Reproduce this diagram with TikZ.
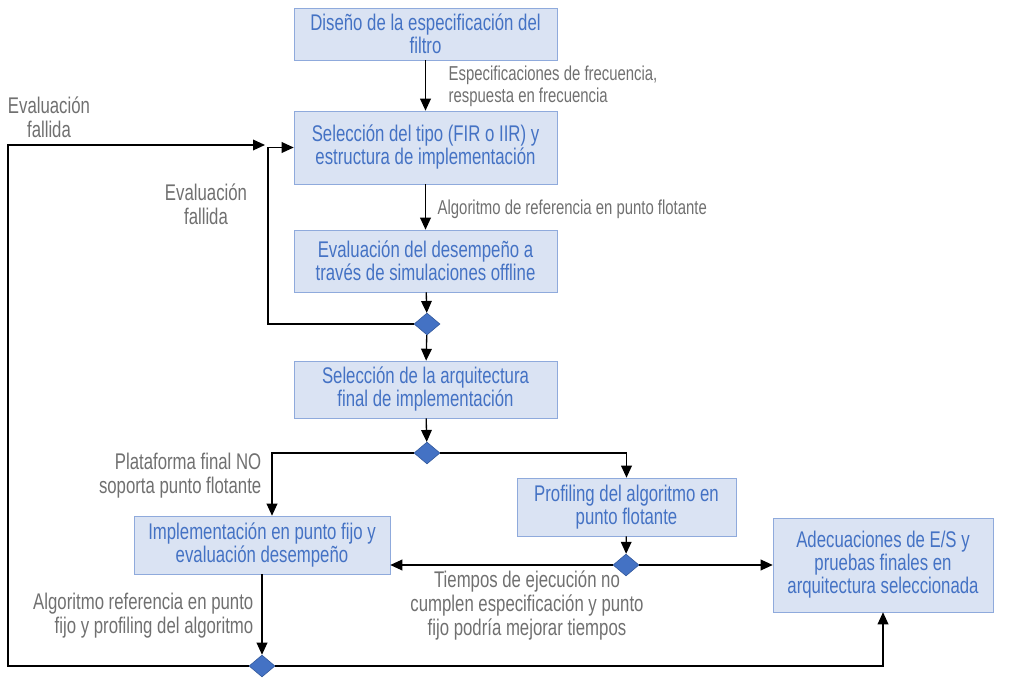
\documentclass[tikz,border=0pt]{standalone}
\usepackage{fontspec}
\setmainfont[FakeStretch=0.74]{Liberation Sans}
\usetikzlibrary{arrows.meta,shapes.geometric}
\definecolor{boxfill}{HTML}{DAE3F3}
\definecolor{boxline}{HTML}{8FAADC}
\definecolor{boxtext}{HTML}{4472C4}
\definecolor{labeltext}{HTML}{707070}
\definecolor{decline}{HTML}{2F5597}
\tikzset{
    stage/.style={draw=boxline,fill=boxfill,text=boxtext,align=center,inner sep=0pt,
        minimum width=197.25pt,font=\fontsize{17pt}{17.25pt}\selectfont},
    decision/.style={diamond,draw=decline,fill=boxtext,inner sep=0pt,
        minimum width=19.5pt,minimum height=16.5pt},
    note/.style={text=labeltext,font=\fontsize{17pt}{18pt}\selectfont},
    smallnote/.style={text=labeltext,align=left,font=\fontsize{15.1pt}{16.5pt}\selectfont},
    arr/.style={line width=1pt,-{Triangle[width=8pt,length=9pt]}}
}
\begin{document}
\begin{tikzpicture}[x=0.75pt,y=-0.75pt]
                \useasboundingbox (0,0) rectangle (1013,680);
                \node[stage,minimum height=39pt] (spec) at (425.5,34) {Diseño de la especificación del\\filtro};
                \node[stage,minimum height=54.75pt] (tipo) at (425.5,147.5) {Selección del tipo (FIR o IIR) y\\estructura de implementación};
                \node[stage,minimum height=46.5pt] (sim) at (425.5,261) {Evaluación del desempeño a\\través de simulaciones offline};
                \node[decision] (dsim) at (427,324) {};
                \node[stage,minimum height=42.75pt] (arq) at (425.5,389.5) {Selección de la arquitectura\\final de implementación};
                \node[decision] (darq) at (427,453) {};
                \node[stage,minimum width=164.25pt,minimum height=43.5pt] (prof) at (626.5,507) {Profiling del algoritmo en\\punto flotante};
                \node[stage,minimum width=192pt,minimum height=43.5pt] (fijo) at (262,545) {Implementación en punto fijo y\\evaluación desempeño};
                \node[stage,minimum width=165pt,minimum height=70.5pt] (final) at (883,565) {Adecuaciones de E/S y\\pruebas finales en\\arquitectura seleccionada};
                \node[decision] (dprof) at (626,565) {};
                \node[decision] (dfijo) at (262,666) {};
                \coordinate (back) at (265,145);

                \draw[arr] (spec) -- (tipo);
                \node[smallnote,anchor=west] at (444,86) {Especificaciones de frecuencia,\\respuesta en frecuencia};
                \draw[arr] (tipo) -- (sim);
                \node[smallnote,anchor=west] at (433,209) {Algoritmo de referencia en punto flotante};
                \draw[arr] (sim) -- (dsim);
                \draw[arr] (dsim) -- (arq);
                \draw[arr] (dsim) -- (268,324) |- (tipo);
                \node[note,align=center] at (206,204) {Evaluación\\fallida};
                \draw[arr] (arq) -- (darq);
                \draw[arr] (darq) -| ([xshift=7.5pt]fijo.north);
                \draw[arr] (darq) -| (prof);
                \node[note,align=right,anchor=east] at (266,476) {Plataforma final NO\\soporta punto flotante};
                \draw[arr] (prof) -- (dprof);
                \draw[arr] (dprof) -- (dprof -| fijo.east);
                \draw[arr] (dprof) -- (final);
                \node[note,align=center] at (527,606) {Tiempos de ejecución no\\cumplen especificación y punto\\fijo podría mejorar tiempos};
                \draw[arr] (fijo) -- (dfijo);
                \node[note,align=right,anchor=east] at (258,616) {Algoritmo referencia en punto\\fijo y profiling del algoritmo};
                \draw[arr] (dfijo) -| (final);
                \draw[arr] (dfijo) -| (8,145) -- (back);
                \node[note,align=center] at (49,117) {Evaluación\\fallida};
            \end{tikzpicture}
\end{document}
